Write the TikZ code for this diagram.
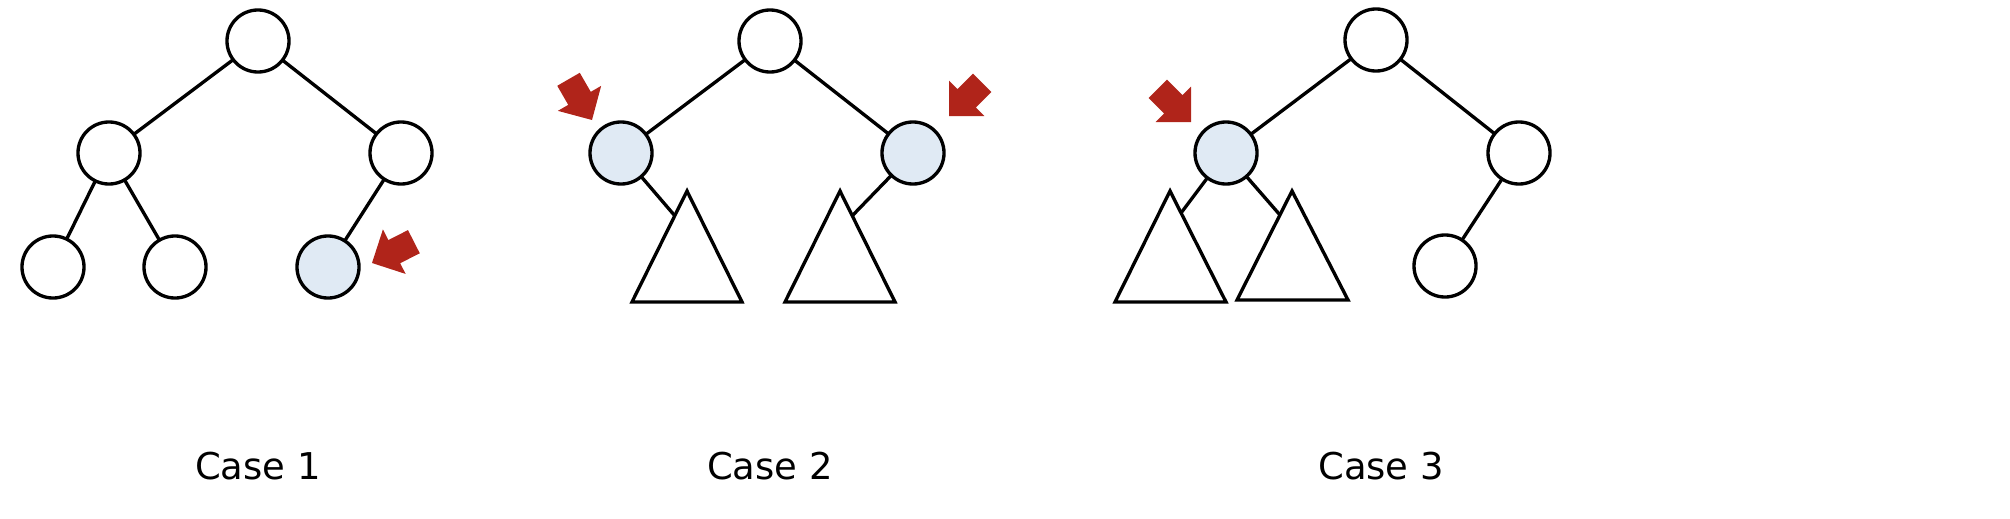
\documentclass[tikz,border=0pt]{standalone}
\usepackage{fontspec}
\setmainfont{DejaVu Sans}
\definecolor{markred}{HTML}{B0241A}
\definecolor{nodeblue}{HTML}{E0EAF4}

\begin{document}
\begin{tikzpicture}[x=0.01cm, y=-0.01cm, line width=0.95pt,
    vertex/.style={circle, draw, fill=white, minimum size=0.62cm, inner sep=0pt, outer sep=0pt},
    picked/.style={vertex, fill=nodeblue},
    caption/.style={font=\fontsize{10.5}{12}\selectfont, inner sep=0pt},
    pointer/.pic={\fill[markred] (0,0) -- (-25,25) -- (-25,13) -- (-47,13) -- (-47,-13) -- (-25,-13) -- (-25,-25) -- cycle;}]
    \useasboundingbox (0,0) rectangle (2010,518);

    % Case 1
    \node[vertex](a_root) at (258, 41) {};
    \node[vertex](a_left) at (109, 153) {};
    \node[vertex](a_right) at (401, 153) {};
    \node[vertex](a_ll) at (53, 267) {};
    \node[vertex](a_lr) at (175, 267) {};
    \node[picked](a_rl) at (328, 267) {};
    \draw (a_root) edge (a_left) (a_root) edge (a_right)
          (a_left) edge (a_ll) (a_left) edge (a_lr) (a_right) edge (a_rl);
    \pic[rotate=207] (a_mark) at (372, 263) {pointer};
    \node[caption](a_cap) at (258, 466) {Case 1};

    % Case 2
    \node[vertex](b_root) at (770, 41) {};
    \node[picked](b_left) at (621, 153) {};
    \node[picked](b_right) at (913, 153) {};
    \coordinate (b_t1_top) at (687, 191);
    \coordinate (b_t1_l) at (632, 302);
    \coordinate (b_t1_r) at (742, 302);
    \coordinate (b_t2_top) at (840, 191);
    \coordinate (b_t2_l) at (785, 302);
    \coordinate (b_t2_r) at (895, 302);
    \coordinate (b_t1_hit) at (675, 216);
    \coordinate (b_t2_hit) at (852, 216);
    \draw (b_t1_top) -- (b_t1_l) -- (b_t1_r) -- cycle;
    \draw (b_t2_top) -- (b_t2_l) -- (b_t2_r) -- cycle;
    \draw (b_root) edge (b_left) (b_root) edge (b_right)
          (b_left) edge (b_t1_hit) (b_right) edge (b_t2_hit);
    \pic[rotate=300] (b_mark_l) at (592, 120) {pointer};
    \pic[rotate=225] (b_mark_r) at (949, 116) {pointer};
    \node[caption](b_cap) at (770, 466) {Case 2};

    % Case 3
    \node[vertex](c_root) at (1376, 40) {};
    \node[picked](c_left) at (1226, 153) {};
    \node[vertex](c_right) at (1519, 153) {};
    \node[vertex](c_rl) at (1445, 266) {};
    \coordinate (c_t1_top) at (1170, 191);
    \coordinate (c_t1_l) at (1115, 302);
    \coordinate (c_t1_r) at (1226, 302);
    \coordinate (c_t2_top) at (1292, 191);
    \coordinate (c_t2_l) at (1237, 300);
    \coordinate (c_t2_r) at (1348, 300);
    \coordinate (c_t1_hit) at (1181, 213);
    \coordinate (c_t2_hit) at (1280, 215);
    \draw (c_t1_top) -- (c_t1_l) -- (c_t1_r) -- cycle;
    \draw (c_t2_top) -- (c_t2_l) -- (c_t2_r) -- cycle;
    \draw (c_root) edge (c_left) (c_root) edge (c_right)
          (c_right) edge (c_rl) (c_left) edge (c_t1_hit) (c_left) edge (c_t2_hit);
    \pic[rotate=315] (c_mark) at (1191, 122) {pointer};
    \node[caption](c_cap) at (1381, 466) {Case 3};
\end{tikzpicture}
\end{document}
